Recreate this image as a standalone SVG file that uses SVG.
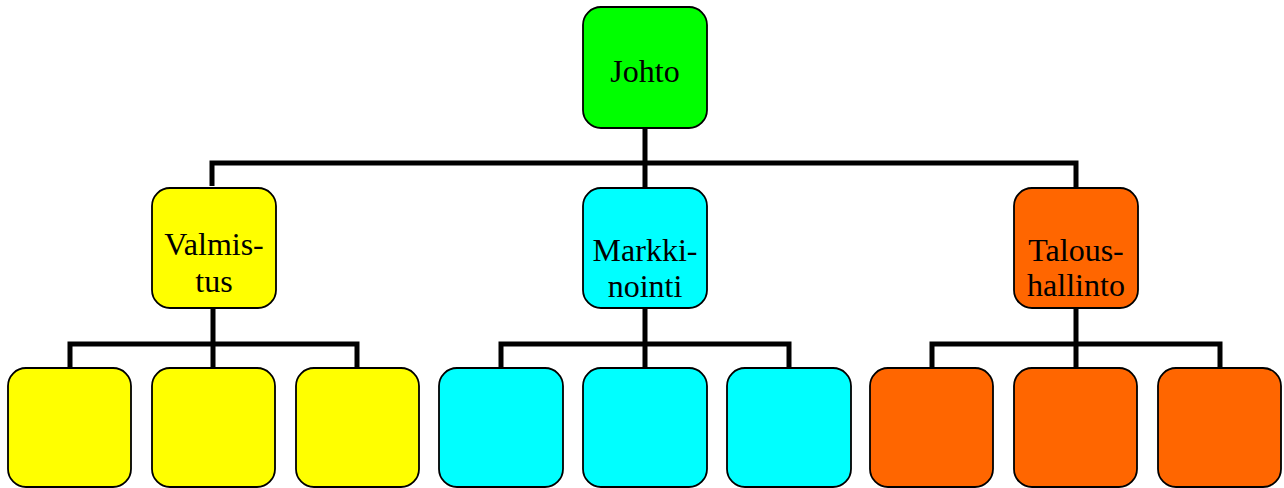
<svg xmlns="http://www.w3.org/2000/svg" width="1284" height="488" viewBox="0 0 1284 488">
  <style>
    .box { stroke: #000; stroke-width: 1.8; }
    .lead { fill: #00ff00; }
    .prod { fill: #ffff00; }
    .mark { fill: #00ffff; }
    .fin { fill: #ff6600; }
    .wire { fill: none; stroke: #000; stroke-width: 5; stroke-linejoin: miter; stroke-linecap: butt; }
    text { font-family: "Liberation Serif", "Times New Roman", serif; font-size: 32px; fill: #000; text-anchor: middle; }
  </style>
  <rect width="1284" height="488" fill="#fff"/>

  <!-- connectors -->
  <g id="connectors">
    <path class="wire" d="M645 128 V188 M212 186 V163 H1076 V188"/>
    <path class="wire" d="M213 308 V368 M70 368 V344 H357 V368"/>
    <path class="wire" d="M645 308 V368 M501 368 V344 H789 V368"/>
    <path class="wire" d="M1076 308 V368 M932 368 V344 H1220 V368"/>
  </g>

  <!-- top level -->
  <g id="johto">
    <rect class="box lead" x="583" y="7" width="124" height="121" rx="18"/>
    <text x="645" y="82">Johto</text>
  </g>

  <!-- departments -->
  <g id="valmistus">
    <rect class="box prod" x="152" y="188" width="124" height="120" rx="18"/>
    <text x="214" y="255">Valmis-</text>
    <text x="214" y="292">tus</text>
  </g>
  <g id="markkinointi">
    <rect class="box mark" x="583" y="188" width="124" height="120" rx="18"/>
    <text x="645" y="261">Markki-</text>
    <text x="645" y="297">nointi</text>
  </g>
  <g id="taloushallinto">
    <rect class="box fin" x="1014" y="188" width="124" height="120" rx="18"/>
    <text x="1076" y="261">Talous-</text>
    <text x="1076" y="296">hallinto</text>
  </g>

  <!-- units -->
  <g id="valmistus-1"><rect class="box prod" x="8" y="368" width="123" height="119" rx="18"/></g>
  <g id="valmistus-2"><rect class="box prod" x="152" y="368" width="123" height="119" rx="18"/></g>
  <g id="valmistus-3"><rect class="box prod" x="296" y="368" width="123" height="119" rx="18"/></g>
  <g id="markkinointi-1"><rect class="box mark" x="439" y="368" width="124" height="119" rx="18"/></g>
  <g id="markkinointi-2"><rect class="box mark" x="583" y="368" width="124" height="119" rx="18"/></g>
  <g id="markkinointi-3"><rect class="box mark" x="727" y="368" width="124" height="119" rx="18"/></g>
  <g id="taloushallinto-1"><rect class="box fin" x="870" y="368" width="123" height="119" rx="18"/></g>
  <g id="taloushallinto-2"><rect class="box fin" x="1014" y="368" width="123" height="119" rx="18"/></g>
  <g id="taloushallinto-3"><rect class="box fin" x="1158" y="368" width="123" height="119" rx="18"/></g>
</svg>
